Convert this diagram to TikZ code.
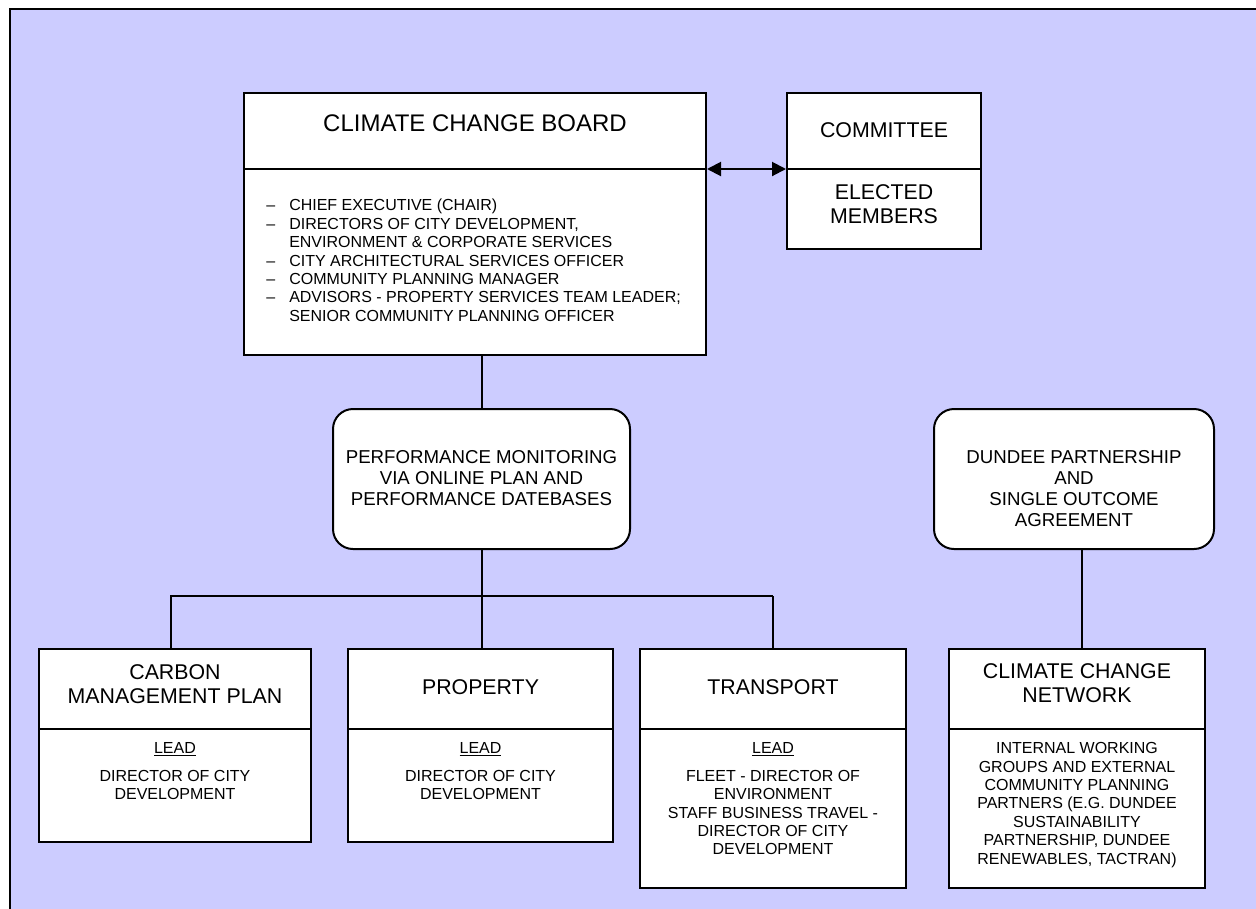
\documentclass[tikz,border=0pt]{standalone}
\usepackage{fontspec}
\setmainfont{Liberation Sans}
\usetikzlibrary{arrows.meta}
\definecolor{lav}{HTML}{CCCCFF}
\newcommand{\dsh}{\makebox[17.25pt][l]{\textendash}}
\newcommand{\ndsh}{\makebox[17.25pt][l]{}}
\begin{document}
\begin{tikzpicture}[x=0.75pt,y=-0.75pt,
  box/.style={draw=black, line width=1.5pt, fill=white, rectangle, inner sep=0pt},
  rbox/.style={box, rounded corners=15pt},
  conn/.style={draw=black, line width=1.5pt},
  thinconn/.style={draw=black, line width=0.8pt},
  txt/.style={inner sep=0pt, align=center},
  feighteen/.style={font=\fontsize{18}{20.7}\selectfont},
  fsixteen/.style={font=\fontsize{16}{18}\selectfont},
  ffourteen/.style={font=\fontsize{14}{15.7}\selectfont},
  ftwelve/.style={font=\fontsize{12}{13.8}\selectfont},
  tip/.style={{Triangle[length=10.5pt,width=10.5pt]}-{Triangle[length=10.5pt,width=10.5pt]}}
]
\useasboundingbox (0,0) rectangle (1256,908);
\draw[line width=1.5pt, fill=lav] (10,9) rectangle (1290,940);

% boxes
\node[box, minimum width=346.5pt, minimum height=196.5pt] (board) at (475,224) {};
\node[box, minimum width=145.5pt, minimum height=117pt] (committee) at (884,171) {};
\node[rbox, minimum width=222.75pt, minimum height=105pt] (perf) at (481.5,479) {};
\node[rbox, minimum width=210pt, minimum height=105pt] (dundee) at (1074,479) {};
\node[box, minimum width=204pt, minimum height=144.75pt] (carbon) at (175,745.5) {};
\node[box, minimum width=198.75pt, minimum height=144.75pt] (property) at (480.5,745.5) {};
\node[box, minimum width=199.5pt, minimum height=179.25pt] (transport) at (773,768.5) {};
\node[box, minimum width=192pt, minimum height=179.25pt] (ccn) at (1077,768.5) {};

% dividers
\coordinate (dtop) at (0,169);
\coordinate (dbot) at (0,729);
\coordinate (bar) at (0,596);
\draw[conn] (board.west |- dtop) -- (board.east |- dtop);
\draw[conn] (committee.west |- dtop) -- (committee.east |- dtop);
\foreach \b in {carbon,property,transport,ccn}
  \draw[conn] (\b.west |- dbot) -- (\b.east |- dbot);

% connectors
\draw[conn, tip] (board.east |- dtop) -- (committee.west |- dtop);
\draw[conn] (perf.north) -- (perf.north |- board.south);
\draw[conn] (perf.south) -- (perf.south |- property.north);
\draw[conn] ([xshift=-3pt]carbon.north) -- ([xshift=-3pt]carbon.north |- bar) -- (transport.north |- bar);
\draw[thinconn] (transport.north |- bar) -- (transport.north);
\draw[conn] ([xshift=6pt]dundee.south) -- ([xshift=6pt]dundee.south |- ccn.north);

% texts
\node[txt, feighteen] (boardT) at (475,123) {CLIMATE CHANGE BOARD};
\node[txt, ftwelve, align=left, anchor=north west] (boardL) at (266,199) {%
\dsh CHIEF EXECUTIVE (CHAIR)\\
\dsh DIRECTORS OF CITY DEVELOPMENT,\\
\ndsh ENVIRONMENT \& CORPORATE SERVICES\\
\dsh CITY ARCHITECTURAL SERVICES OFFICER\\
\dsh COMMUNITY PLANNING MANAGER\\
\dsh ADVISORS - PROPERTY SERVICES TEAM LEADER;\\
\ndsh SENIOR COMMUNITY PLANNING OFFICER};
\node[txt, fsixteen] (commT) at (884,130) {COMMITTEE};
\node[txt, fsixteen] (commB) at (884,204) {ELECTED\\MEMBERS};
\node[txt, ffourteen, anchor=north] (perfT) at (481.5,450.3) {PERFORMANCE MONITORING\\VIA ONLINE PLAN AND\\PERFORMANCE DATEBASES};
\node[txt, ffourteen, anchor=north] (dundeeT) at (1074,450.3) {DUNDEE PARTNERSHIP\\AND\\SINGLE OUTCOME\\AGREEMENT};

\node[txt, fsixteen] (carbonT) at (175,684.5) {CARBON\\MANAGEMENT PLAN};
\node[txt, fsixteen] (propertyT) at (480.5,687) {PROPERTY};
\node[txt, fsixteen] (transportT) at (773,687) {TRANSPORT};
\node[txt, fsixteen] (ccnT) at (1077,683.5) {CLIMATE CHANGE\\NETWORK};

\node[txt, ftwelve, anchor=north] (carbonB) at (175,742.3) {\underline{LEAD}\\[7pt]DIRECTOR OF CITY\\DEVELOPMENT};
\node[txt, ftwelve, anchor=north] (propertyB) at (480.5,742.3) {\underline{LEAD}\\[7pt]DIRECTOR OF CITY\\DEVELOPMENT};
\node[txt, ftwelve, anchor=north] (transportB) at (773,742.3) {\underline{LEAD}\\[7pt]FLEET - DIRECTOR OF\\ENVIRONMENT\\STAFF BUSINESS TRAVEL -\\DIRECTOR OF CITY\\DEVELOPMENT};
\node[txt, ftwelve, anchor=north] (ccnB) at (1077,742.3) {INTERNAL WORKING\\GROUPS AND EXTERNAL\\COMMUNITY PLANNING\\PARTNERS (E.G. DUNDEE\\SUSTAINABILITY\\PARTNERSHIP, DUNDEE\\RENEWABLES, TACTRAN)};
\end{tikzpicture}
\end{document}
